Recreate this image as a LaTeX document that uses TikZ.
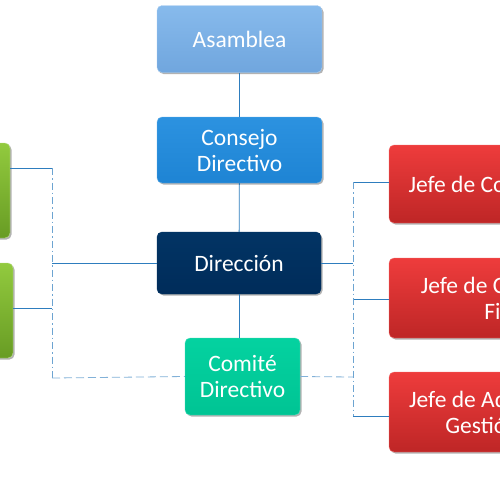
\documentclass[tikz,border=0pt]{standalone}
\usepackage{fontspec}
\setmainfont{Carlito}
\usetikzlibrary{shadows,calc}
\definecolor{asmT}{RGB}{135,186,236}
\definecolor{asmB}{RGB}{112,166,222}
\definecolor{conT}{RGB}{44,146,224}
\definecolor{conB}{RGB}{30,132,212}
\definecolor{dirT}{RGB}{2,52,100}
\definecolor{dirB}{RGB}{0,44,90}
\definecolor{comT}{RGB}{4,210,160}
\definecolor{comB}{RGB}{0,196,148}
\definecolor{grnT}{RGB}{146,202,62}
\definecolor{grnB}{RGB}{104,156,36}
\definecolor{redT}{RGB}{238,60,60}
\definecolor{redB}{RGB}{190,38,38}
\definecolor{linec}{RGB}{46,125,190}
\begin{document}
\begin{tikzpicture}[x=1pt,y=-1pt,
  box/.style={rounded corners=5pt, text=white, align=center,
    font=\fontsize{23.5}{26}\selectfont, inner sep=0pt,
    drop shadow={shadow xshift=1.5pt,shadow yshift=-1.5pt,opacity=0.3,fill=black}},
  link/.style={draw=linec, line width=0.8pt},
  dlink/.style={draw=linec!70, line width=0.8pt, dash pattern=on 7pt off 3pt on 1.5pt off 3pt},
  dashline/.style={draw=linec!60, line width=0.8pt, dash pattern=on 8pt off 4pt}]
\useasboundingbox (0,0) rectangle (500,480);
\clip (0,0) rectangle (500,480);
\fill[white] (0,0) rectangle (500,480);

\node[box, minimum width=165pt, minimum height=67pt, top color=asmT, bottom color=asmB, draw=asmT!70!white] (asm) at (239.5,39) {Asamblea};
\node[box, minimum width=165pt, minimum height=66pt, top color=conT, bottom color=conB, draw=conT!70!white] (con) at (239.5,150) {Consejo\\Directivo};
\node[box, minimum width=164pt, minimum height=62pt, top color=dirT, bottom color=dirB, draw=dirT] (dir) at (239,263) {Dirección};
\node[box, minimum width=115pt, minimum height=77pt, top color=comT, bottom color=comB, draw=comT!70!white] (com) at (242.5,376.5) {Comité\\Directivo};

\node[box, minimum width=150pt, minimum height=95pt, top color=grnT, bottom color=grnB, draw=grnT!60!white] (g1) at (-65,190.5) {};
\node[box, minimum width=150pt, minimum height=95pt, top color=grnT, bottom color=grnB, draw=grnT!60!white] (g2) at (-62,310.5) {};

\node[box, minimum width=272pt, minimum height=78pt, top color=redT, bottom color=redB, draw=redT!70!white] (r1) at (525,184) {Jefe de Comercialización};
\node[box, minimum width=272pt, minimum height=80pt, top color=redT, bottom color=redB, draw=redT!70!white] (r2) at (525,298) {Jefe de Contabilidad y\\Finanzas};
\node[box, minimum width=272pt, minimum height=80pt, top color=redT, bottom color=redB, draw=redT!70!white] (r3) at (525,412) {Jefe de Administración y\\Gestión Humana};

% vertical chain
\draw[link] (asm) -- (con);
\draw[link] (con) -- (dir);
\draw[link] (dir.south) -- (dir.south |- com.north);

% left side
\coordinate (lj1) at (52,168);
\coordinate (lj2) at (52,263);
\coordinate (lj3) at (52,308);
\coordinate (lj4) at (52,378);
\draw[link] (g1.east |- lj1) -- (lj1);
\draw[link] (dir.west) -- (lj2);
\draw[link] (g2.east |- lj3) -- (lj3);
\draw[dlink] (lj1) -- (lj4);
\draw[dashline] (lj4) -- (com.west);

% right side
\coordinate (rj1) at (353,182);
\coordinate (rj2) at (353,263);
\coordinate (rj3) at (353,299);
\coordinate (rj4) at (353,377);
\coordinate (rj5) at (353,416);
\draw[link] (dir.east) -- (rj2);
\draw[link] (rj1) -- (r1.west |- rj1);
\draw[link] (rj3) -- (r2.west |- rj3);
\draw[link] (rj5) -- (r3.west |- rj5);
\draw[dlink] (rj1) -- (rj5);
\draw[dashline] (com.east) -- (rj4);
\end{tikzpicture}
\end{document}
